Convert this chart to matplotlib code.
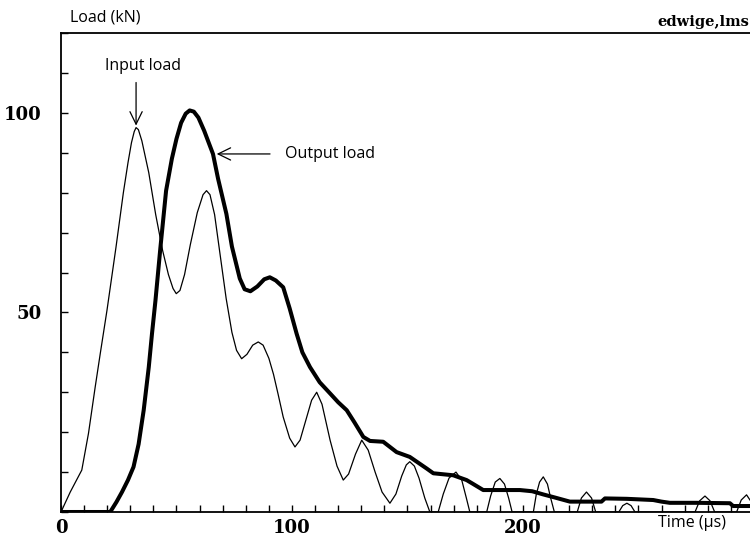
import matplotlib
matplotlib.use('Agg')
import matplotlib.pyplot as plt

# Input load (thin line): time in us, load in kN
t_in = [0, 4, 9, 11.9, 14.8, 17, 19.9, 23.8, 27, 29, 30.5, 31.7, 32.5, 33.5, 35, 38, 41,
        44, 46.5, 48.5, 49.9, 51.5, 53.5, 56, 59, 61.5, 63, 64.5, 66.5, 69, 71.5, 74, 76,
        78.2, 80.5, 83, 85.4, 87.5, 90, 92, 94, 96.2, 99, 101.3, 103.5, 106, 108.5, 110.7,
        113, 116.5, 119.5, 122.2, 124.5, 127.5, 130.2, 133, 136, 139, 142.4, 145, 147.5,
        149.5, 151, 153, 155, 157.5, 159.7, 163.3, 165.5, 168, 171, 173.5, 175.5, 177,
        184.3, 186, 188, 190, 192, 193.8, 195.3, 204.5, 205.8, 207.2, 208.8, 210.6, 212,
        213.6, 223.5, 225.3, 227.5, 229.7, 231.5, 241.5, 243.2, 245, 246.8, 248.5, 274.5,
        276.5, 278.8, 281, 283, 292.5, 294.5, 296.8, 298.3]
load_in = [0, 5, 10.5, 19.7, 31.3, 39.7, 50.5, 66.3, 80, 87.5, 92.5, 95.3, 96.3, 95.8, 93, 85, 74.5,
           65.5, 59.5, 56, 54.7, 55.5, 59.5, 67, 75, 79.5, 80.5, 79.5, 74.5, 64, 53.5, 45, 40.5,
           38.4, 39.5, 41.8, 42.6, 41.8, 38.5, 34.5, 29.5, 23.8, 18.5, 16.3, 18, 23, 28, 30,
           27, 18, 11.5, 8, 9.5, 14.5, 18, 15.5, 10, 5, 2.2, 4.5, 9,
           11.8, 12.6, 11.5, 8.5, 3.5, 0, 0, 4.5, 8.5, 10, 8, 3.5, 0,
           0, 4, 7.5, 8.4, 7, 3.5, 0, 0, 4.5, 7.5, 8.8, 7, 3.5,
           0, 0, 3.5, 5, 3.5, 0, 0, 1.6, 2.2, 1.6, 0, 0,
           2.8, 4, 2.8, 0, 0, 3, 4.3, 3]

# Output load (thick line)
t_out = [0, 21.3, 24, 26.4, 29, 31.4, 33.6, 35.8, 38, 39.4, 40.9, 43, 45.5, 48, 50, 52,
         54, 55.7, 57.5, 59.5, 62, 65.8, 68, 71.6, 74, 77.4, 79.5, 82, 85, 88, 90.4, 93, 96.2,
         99, 102, 104.5, 107.8, 112, 116.5, 120, 123.7, 127, 130.9, 133.8, 139.5, 145.3,
         151, 158.3, 161.2, 169.8, 175.6, 178.5, 182.8, 190, 198.7, 204, 208.8, 214, 220.3, 234,
         235.5, 245, 256.4, 260, 263.6, 275, 289.6, 291, 298.3]
load_out = [0, 0, 2.5, 5, 8, 11.3, 17, 25.5, 36.3, 44.7, 53, 66, 80.5, 88.5, 93.5, 97.5,
            99.8, 100.6, 100.3, 98.8, 95.5, 89.7, 83.5, 74.7, 66.5, 58.5, 55.8, 55.3, 56.5, 58.3, 58.8, 58, 56.3,
            51, 44.7, 40, 36.3, 32.5, 29.7, 27.5, 25.5, 22.5, 18.8, 17.8, 17.6, 15,
            13.8, 10.9, 9.7, 9.2, 8, 7, 5.5, 5.5, 5.5, 5.2, 4.4, 3.6, 2.6, 2.6,
            3.4, 3.3, 3, 2.6, 2.3, 2.3, 2.2, 1.5, 1.5]

x_ticks = list(range(0, 300, 10))
x_labels = {0: '0', 100: '100', 200: '200'}
y_ticks = list(range(0, 121, 10))
y_labels = {50: '50', 100: '100'}

W, H = 750, 538
fig = plt.figure(figsize=(W / 100, H / 100), dpi=100)
ax = fig.add_axes([61 / W, (H - 512) / H, (W - 61) / W, (512 - 33) / H])

ax.plot(t_in, load_in, color='black', lw=0.9)
ax.plot(t_out, load_out, color='black', lw=2.9, solid_joinstyle='round')

ax.set_xlim(0, 298.3)
ax.set_ylim(0, 120)
ax.spines['right'].set_visible(False)
for s in ['left', 'bottom', 'top']:
    ax.spines[s].set_linewidth(1.3)

serif = dict(family='DejaVu Serif', weight='bold', size=13)
ax.set_xticks(x_ticks)
ax.set_xticklabels([x_labels.get(v, '') for v in x_ticks], fontdict=serif)
ax.set_yticks(y_ticks)
ax.set_yticklabels([y_labels.get(v, '') for v in y_ticks], fontdict=serif)
ax.tick_params(axis='x', direction='in', length=5, width=1, pad=5)
ax.tick_params(axis='y', direction='in', length=5, width=1, pad=14)

sans = 'Open Sans'
fig.text(70 / W, 1 - 17 / H, 'Load (kN)', family=sans, size=11.5, va='center', ha='left')
fig.text(749 / W, 1 - 22 / H, 'edwige,lms', family='DejaVu Serif', weight='bold',
         size=10.5, va='center', ha='right')
fig.text(658 / W, 1 - 523 / H, 'Time (\u00b5s)', family=sans, size=11.5, va='center', ha='left')

arrow = dict(arrowstyle='->, head_length=0.45, head_width=0.22', lw=0.9, color='black',
             mutation_scale=20, shrinkA=0, shrinkB=0)
ax.annotate('', xy=(32.5, 96.8), xytext=(32.5, 107.6), arrowprops=arrow)
ax.text(35.5, 111.7, 'Input load', family=sans, size=11.5, ha='center', va='center')
ax.annotate('', xy=(67.4, 89.7), xytext=(90.5, 89.7), arrowprops=arrow)
ax.text(97, 89.7, 'Output load', family=sans, size=11.5, ha='left', va='center')

fig.savefig('out.png', dpi=100)
